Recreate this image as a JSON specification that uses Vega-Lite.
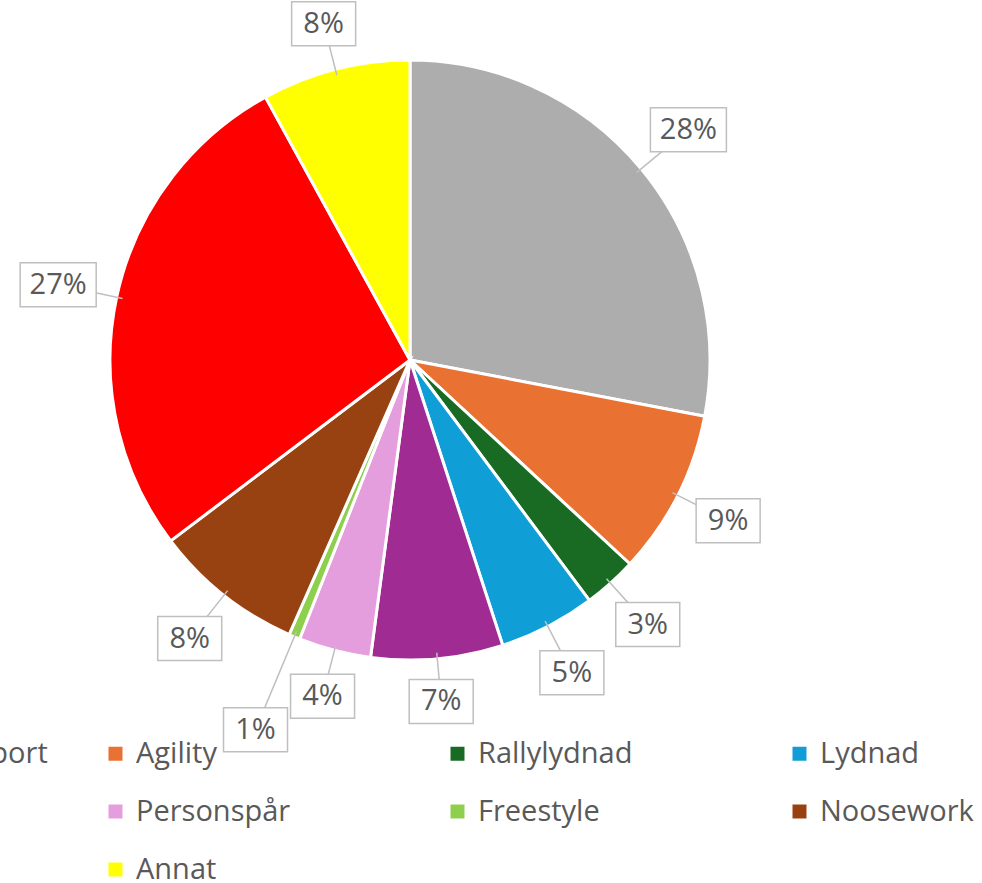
{
  "$schema": "https://vega.github.io/schema/vega-lite/v6.json",
  "width": 820,
  "height": 720,
  "autosize": {"type": "none"},
  "padding": {"left": 0, "top": 0, "right": 162, "bottom": 163},
  "background": "white",
  "config": {"view": {"stroke": null}, "font": "Open Sans"},
  "data": {
    "values": [
      {"i": 0, "kategori": "Tjänstehundssport", "andel": 28.0},
      {"i": 1, "kategori": "Agility", "andel": 8.9},
      {"i": 2, "kategori": "Rallylydnad", "andel": 2.9},
      {"i": 3, "kategori": "Lydnad", "andel": 5.2},
      {"i": 4, "kategori": "Viltspår", "andel": 7.1},
      {"i": 5, "kategori": "Personspår", "andel": 3.9},
      {"i": 6, "kategori": "Freestyle", "andel": 0.6},
      {"i": 7, "kategori": "Noosework", "andel": 8.1},
      {"i": 8, "kategori": "Ingen", "andel": 27.3},
      {"i": 9, "kategori": "Annat", "andel": 8.0}
    ]
  },
  "transform": [
    {"joinaggregate": [{"op": "sum", "field": "andel", "as": "total"}]},
    {"window": [{"op": "sum", "field": "andel", "as": "cum"}], "sort": [{"field": "i"}], "frame": [null, 0]},
    {"calculate": "datum.andel / datum.total", "as": "pct"},
    {"calculate": "2 * PI * (datum.cum - datum.andel / 2) / datum.total", "as": "mid"},
    {"calculate": "round(datum.pct * 100) >= 10 ? 38 / 300 : 32 / 300", "as": "hw"},
    {"calculate": "1 + 18 / 300 + datum.hw * abs(sin(datum.mid)) + (22 / 300) * abs(cos(datum.mid)) + (datum.pct < 0.02 ? 50 / 300 : 0)", "as": "lr"},
    {"calculate": "datum.lr * sin(datum.mid)", "as": "lx"},
    {"calculate": "datum.lr * cos(datum.mid)", "as": "ly"},
    {"calculate": "0.98 * sin(datum.mid)", "as": "ex"},
    {"calculate": "0.98 * cos(datum.mid)", "as": "ey"},
    {"calculate": "datum.lx - datum.hw", "as": "bx1"},
    {"calculate": "datum.lx + datum.hw", "as": "bx2"},
    {"calculate": "datum.ly - 22 / 300", "as": "by1"},
    {"calculate": "datum.ly + 22 / 300", "as": "by2"}
  ],
  "layer": [
    {
      "mark": {"type": "arc", "outerRadius": 300, "stroke": "white", "strokeWidth": 3},
      "encoding": {
        "theta": {"field": "andel", "type": "quantitative", "stack": true},
        "order": {"field": "i", "type": "quantitative"},
        "color": {
          "field": "kategori",
          "type": "nominal",
          "scale": {
            "domain": ["Tjänstehundssport", "Agility", "Rallylydnad", "Lydnad", "Viltspår", "Personspår", "Freestyle", "Noosework", "Ingen", "Annat"],
            "range": ["#adadad", "#e97132", "#196b24", "#0f9ed5", "#a02b93", "#e59edd", "#8ed04d", "#984212", "#ff0000", "#ffff00"]
          },
          "legend": {
            "orient": "none",
            "legendX": -241,
            "legendY": 739,
            "direction": "horizontal",
            "columns": 4,
            "title": null,
            "symbolType": "square",
            "symbolSize": 196,
            "symbolStrokeWidth": 0,
            "labelFont": "Open Sans",
            "labelFontSize": 29,
            "labelColor": "#595959",
            "labelOffset": 6,
            "labelLimit": 500,
            "columnPadding": 53,
            "rowPadding": 28,
            "gridAlign": "all",
            "padding": 0
          }
        }
      }
    },
    {
      "mark": {"type": "rule", "color": "#bfbfbf", "strokeWidth": 1.5},
      "encoding": {
        "x": {"field": "ex", "type": "quantitative", "scale": {"domain": [-1.36667, 1.36667], "nice": false, "zero": false}, "axis": null},
        "y": {"field": "ey", "type": "quantitative", "scale": {"domain": [-1.2, 1.2], "nice": false, "zero": false}, "axis": null},
        "x2": {"field": "lx"},
        "y2": {"field": "ly"}
      }
    },
    {
      "mark": {"type": "rect", "fill": "white", "stroke": "#bfbfbf", "strokeWidth": 1.5},
      "encoding": {
        "x": {"field": "bx1", "type": "quantitative", "scale": {"domain": [-1.36667, 1.36667], "nice": false, "zero": false}, "axis": null},
        "x2": {"field": "bx2"},
        "y": {"field": "by1", "type": "quantitative", "scale": {"domain": [-1.2, 1.2], "nice": false, "zero": false}, "axis": null},
        "y2": {"field": "by2"}
      }
    },
    {
      "mark": {"type": "text", "font": "Open Sans", "fontSize": 29, "color": "#595959", "align": "center", "baseline": "middle"},
      "encoding": {
        "x": {"field": "lx", "type": "quantitative", "scale": {"domain": [-1.36667, 1.36667], "nice": false, "zero": false}, "axis": null},
        "y": {"field": "ly", "type": "quantitative", "scale": {"domain": [-1.2, 1.2], "nice": false, "zero": false}, "axis": null},
        "text": {"field": "pct", "type": "quantitative", "format": ".0%"}
      }
    }
  ]
}
